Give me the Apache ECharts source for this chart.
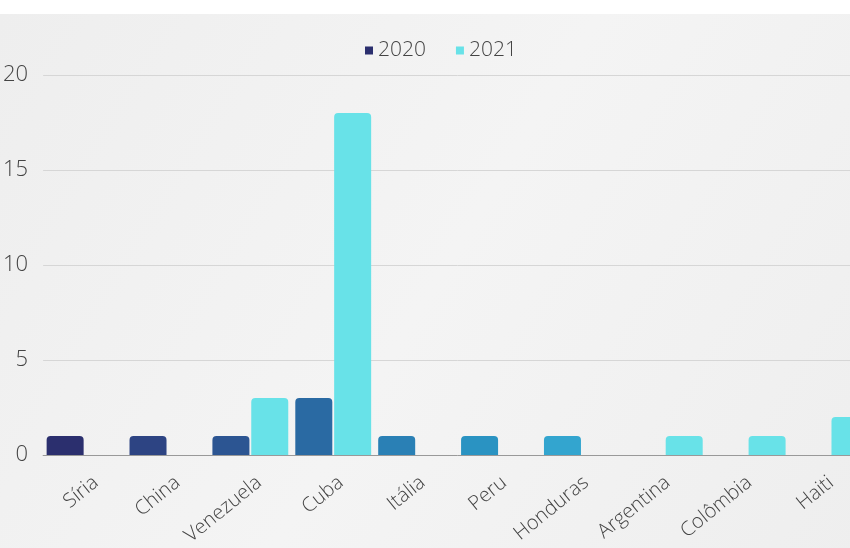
<!DOCTYPE html>
<html>
<head>
<meta charset="utf-8">
<script src="https://cdn.jsdelivr.net/npm/echarts@6/dist/echarts.min.js"></script>
<style>
html,body{margin:0;padding:0;background:#fff;overflow:hidden;width:850px;height:548px;}
#c{width:872px;height:548px;}
</style>
</head>
<body>
<div id="c"></div>
<script>
var categories = ['Síria','China','Venezuela','Cuba','Itália','Peru','Honduras','Argentina','Colômbia','Haiti'];
var values2020 = [1,1,1,3,1,1,1,null,null,null];
var values2021 = [null,null,3,18,null,null,null,1,1,2];
var colors2020 = ['#2b2f6e','#2d4483','#2c5592','#2a6aa3','#2a80b5','#2a93c2','#33a5cf','#33a5cf','#33a5cf','#33a5cf'];
var color2021 = '#68e2e8';
var yTicks = [0,5,10,15,20];

var chart = echarts.init(document.getElementById('c'), null, {renderer:'canvas'});
var font = '"Open Sans", Lato, sans-serif';
chart.setOption({
  backgroundColor: '#ffffff',
  graphic: [{
    type: 'rect', z: -10, silent: true,
    shape: {x: 0, y: 14, width: 872, height: 534},
    style: {fill: new echarts.graphic.LinearGradient(0,0,1,1,[
      {offset:0, color:'#eeeeee'},{offset:0.5, color:'#f4f4f4'},{offset:1, color:'#eeeeee'}])}
  }],
  legend: {
    left: 360, top: 35,
    itemWidth: 8, itemHeight: 8, itemGap: 30,
    icon: 'rect',
    textStyle: {fontFamily: font, fontSize: 21, color: '#444', fontWeight: 300},
    data: [{name:'2020', itemStyle:{color:'#2b2f6e'}}, {name:'2021', itemStyle:{color: color2021}}]
  },
  grid: [
    {left: 42, top: 75, right: 0, bottom: 93, containLabel: false},
    {left: 55, top: 75, right: -13, bottom: 93, containLabel: false}
  ],
  xAxis: [{
    type: 'category', data: categories, gridIndex: 0,
    axisLine: {lineStyle: {color: '#999', width: 1}},
    axisTick: {show: false},
    axisLabel: {show: false}
  }, {
    type: 'category', data: categories, gridIndex: 1,
    axisLine: {show: false},
    axisTick: {show: false},
    axisLabel: {rotate: 39, interval: 0, margin: 26, fontFamily: font, fontSize: 20, color: '#444', fontWeight: 300}
  }],
  yAxis: [{
    type: 'value', min: 0, max: yTicks[yTicks.length-1], interval: 5, gridIndex: 0,
    axisLine: {show: false}, axisTick: {show: false},
    splitLine: {lineStyle: {color: '#d6d6d6', width: 1}},
    axisLabel: {margin: 15, fontFamily: font, fontSize: 22, color: '#444', fontWeight: 300}
  }, {
    type: 'value', min: 0, max: yTicks[yTicks.length-1], gridIndex: 1, show: false
  }],
  series: [
    {name: '2020', type: 'bar', barWidth: 37, barGap: '5%',
     data: values2020.map(function(v,i){return {value: v, itemStyle:{color: colors2020[i]}};}),
     itemStyle: {color: '#2b2f6e', borderRadius: [4,4,0,0]}},
    {name: '2021', type: 'bar', barWidth: 37, barGap: '5%',
     data: values2021,
     itemStyle: {color: color2021, borderRadius: [4,4,0,0]}}
  ]
});
</script>
</body>
</html>
